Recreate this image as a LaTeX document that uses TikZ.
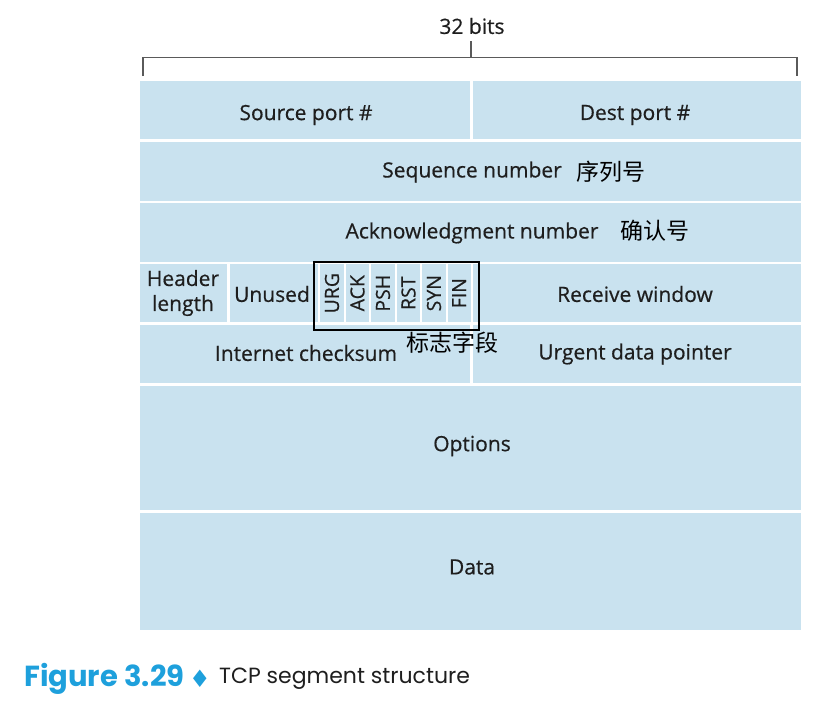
\documentclass[tikz,border=0pt]{standalone}
\usepackage{fontspec}
\setmainfont{Open Sans}[FakeBold=0.5]
\newfontfamily\cjk{Noto Sans CJK SC}
\newfontfamily\capfont{Poppins}
\newfontfamily\djv{DejaVu Sans}
\definecolor{cellblue}{RGB}{201,226,239}
\definecolor{capblue}{RGB}{30,160,220}
\definecolor{brk}{RGB}{90,90,90}
\definecolor{txt}{RGB}{30,30,30}
\begin{document}
\begin{tikzpicture}[x=1pt,y=-1pt,
  cell/.style={fill=cellblue,draw=none,inner sep=0pt},
  lbl/.style={inner sep=0pt,text=txt,font=\fontsize{21}{24}\selectfont},
  zh/.style={inner sep=0pt,font=\cjk\fontsize{23}{24}\selectfont},
  flag/.style={inner sep=0pt,rotate=90,text=txt,font=\fontsize{19.5}{20}\selectfont}]
\useasboundingbox (0,0) rectangle (813,707);
% cells
\newcommand{\cellbox}[5]{\node[cell,minimum width={#3-#2},minimum height={#5-#4},anchor=north west] (#1) at (#2,#4) {};}
\cellbox{src}{140}{470}{81}{139}
\cellbox{dst}{473}{801}{81}{139}
\cellbox{seq}{140}{801}{141.5}{200.5}
\cellbox{ackn}{140}{801}{203}{261.5}
\cellbox{hdr}{140}{227}{264}{322}
\cellbox{unused}{229.5}{318}{264}{322}
\cellbox{furg}{320}{343.5}{264}{322}
\cellbox{fack}{345.5}{369}{264}{322}
\cellbox{fpsh}{371}{394.5}{264}{322}
\cellbox{frst}{396.5}{420}{264}{322}
\cellbox{fsyn}{422}{445.5}{264}{322}
\cellbox{ffin}{447.5}{470.5}{264}{322}
\cellbox{rwnd}{473}{801}{264}{322}
\cellbox{cks}{140}{470}{324.5}{383}
\cellbox{urgp}{473}{801}{324.5}{383}
\cellbox{opt}{140}{801}{385.5}{510}
\cellbox{data}{140}{801}{512.5}{630}
% labels
\node[lbl] (tsrc) at (306,115) {Source port \#};
\node[lbl] (tdst) at (635,115) {Dest port \#};
\node[lbl] (tseq) at (472,172) {Sequence number};
\node[zh] (zseq) at (611,172) {序列号};
\node[lbl] (tack) at (472,233) {Acknowledgment number};
\node[zh] (zack) at (655,231) {确认号};
\node[lbl,align=center,font=\fontsize{21}{25}\selectfont] (thdr) at (183,293) {Header\\length};
\node[lbl] (tun) at (272,294) {Unused};
\node[flag] at (furg.center) {URG};
\node[flag] at (fack.center) {ACK};
\node[flag] at (fpsh.center) {PSH};
\node[flag] at (frst.center) {RST};
\node[flag] at (fsyn.center) {SYN};
\node[flag] at (ffin.center) {FIN};
\node[lbl] (trw) at (635,294) {Receive window};
\node[lbl] (tcks) at (306,353) {Internet checksum};
\node[lbl] (turg) at (635,354) {Urgent data pointer};
\node[lbl] (topt) at (472,446) {Options};
\node[lbl] (tdata) at (472,567) {Data};
% flag box
\node[draw=black,line width=2.2pt,inner sep=0pt,minimum width=165,minimum height=68,anchor=north west] (fbox) at (312.5,260.5) {};
\node[zh] (zflag) at (452,343) {标志字段};
% bracket
\coordinate (bl) at (143,76);
\coordinate (br) at (797,76);
\coordinate (blt) at (143,57.5);
\coordinate (brt) at (797,57.5);
\coordinate (bm) at (471,57.5);
\coordinate (bmt) at (471,41);
\draw[brk,line width=1.2pt] (bl) -- (blt) -- (brt) -- (br);
\draw[brk,line width=1.2pt] (bm) -- (bmt);
\node[lbl] (bits) at (472,26) {32 bits};
% caption
\node[anchor=west,inner sep=0pt,text=capblue,font=\capfont\bfseries\fontsize{29}{30}\selectfont] (capfig) at (24,679) {Figure 3.29};
\node[inner sep=0pt,text=capblue,font=\djv\fontsize{24}{26}\selectfont] (capdia) at (200,679) {♦};
\node[anchor=west,inner sep=0pt,text=txt,font=\capfont\fontsize{22}{26}\selectfont] (captxt) at (219,679) {TCP segment structure};
\end{tikzpicture}
\end{document}
